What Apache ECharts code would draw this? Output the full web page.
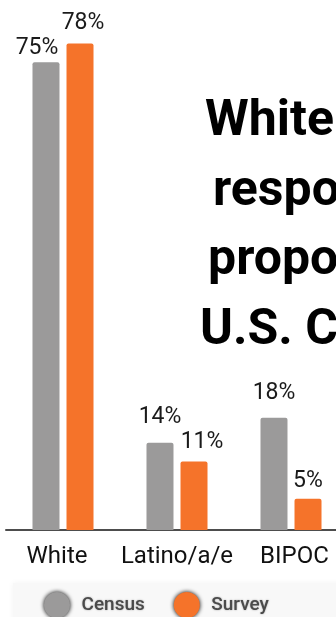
<!DOCTYPE html>
<html>
<head>
<meta charset="utf-8">
<script src="https://cdn.jsdelivr.net/npm/echarts@6/dist/echarts.min.js"></script>
<style>
  html, body { margin: 0; padding: 0; background: #fff; }
  #chart { width: 336px; height: 617px; overflow: hidden; }
</style>
</head>
<body>
<div id="chart"></div>
<script>
// Share of each group, percent
const categories = ['White', 'Latino/a/e', 'BIPOC'];
const censusValues = [75, 14, 18];
const surveyValues = [78, 11, 5];
const seriesNames = ['Census', 'Survey'];
const titleLines = ['White survey', 'respondents', 'proportional to', 'U.S. Census'];

// Per-label nudges so neighbouring value labels do not collide
const censusLabelShift = [[-9, 2], [0, 14], [0, 13]];
const surveyLabelShift = [[3, 9], [8, 8], [0, 6]];
const categoryLabelPad = [[0, 12, 0, 0], [0, 0, 0, 0], [0, 0, 0, 7]];

const GRAY = '#9b9a9a';
const ORANGE = '#f5732a';

function withLabels(values, shifts) {
  return values.map((v, i) => ({
    value: v,
    label: { distance: shifts[i][1], offset: [shifts[i][0], 0] }
  }));
}

const chart = echarts.init(document.getElementById('chart'), null, { renderer: 'canvas' });

// Headline lines, each left-anchored; they run past the right edge
const titleX = [205, 213, 208, 200];
const titleY = [122, 192, 261, 331];

chart.setOption({
  animation: false,
  backgroundColor: '#ffffff',
  grid: { left: 6, top: 31, width: 342, height: 499, outerBoundsMode: 'none', containLabel: false },
  xAxis: {
    type: 'category',
    data: categories.map((c, i) => ({ value: c, textStyle: { padding: categoryLabelPad[i] } })),
    axisLine: { show: true, lineStyle: { color: '#4d4d4d', width: 2 } },
    axisTick: { show: false },
    axisLabel: {
      interval: 0,
      margin: 15,
      fontFamily: 'Roboto',
      fontSize: 24,
      color: '#111111'
    }
  },
  yAxis: { type: 'value', min: 0, max: 80, show: false },
  legend: {
    left: 39,
    top: 587,
    icon: 'circle',
    itemWidth: 39,
    itemHeight: 26,
    itemGap: 29,
    data: seriesNames,
    itemStyle: { shadowBlur: 4 },
    textStyle: {
      fontFamily: 'Roboto',
      fontSize: 19,
      fontWeight: 500,
      color: '#4a4a4a',
      textShadowColor: 'rgba(0,0,0,0.35)',
      textShadowBlur: 2
    }
  },
  graphic: [
    {
      type: 'rect', silent: true, z: -1,
      shape: { x: 13, y: 583, width: 340, height: 40 },
      style: { fill: '#f8f8f8', shadowBlur: 6, shadowColor: '#f3f3f3' }
    }
  ].concat(titleLines.map((t, i) => ({
    type: 'text',
    left: titleX[i],
    top: titleY[i] - 25,
    style: {
      text: t,
      font: 'bold 50px Roboto',
      fill: '#000000'
    }
  }))),
  series: [
    {
      name: seriesNames[0],
      type: 'bar',
      barWidth: 27,
      barGap: '26%',
      data: withLabels(censusValues, censusLabelShift),
      itemStyle: { color: GRAY, borderRadius: [2, 2, 0, 0], shadowColor: GRAY },
      label: {
        show: true,
        position: 'top',
        formatter: '{c}%',
        fontFamily: 'Roboto',
        fontSize: 23,
        color: '#1a1a1a'
      }
    },
    {
      name: seriesNames[1],
      type: 'bar',
      barWidth: 27,
      data: withLabels(surveyValues, surveyLabelShift),
      itemStyle: { color: ORANGE, borderRadius: [2, 2, 0, 0], shadowColor: ORANGE },
      label: {
        show: true,
        position: 'top',
        formatter: '{c}%',
        fontFamily: 'Roboto',
        fontSize: 23,
        color: '#1a1a1a'
      }
    }
  ]
});
</script>
</body>
</html>
